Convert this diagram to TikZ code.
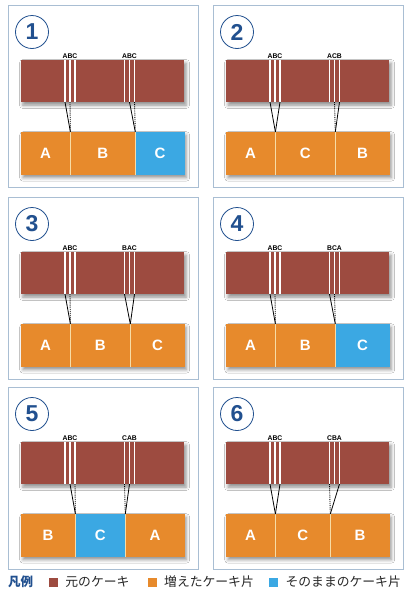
\documentclass[tikz,border=0pt]{standalone}
\usepackage{fontspec}
\setmainfont{Liberation Sans}
\newfontfamily\jpfont{Noto Sans CJK JP}
\usetikzlibrary{positioning,shadows.blur}
\definecolor{cake}{HTML}{9D4B40}
\definecolor{orng}{HTML}{E78A2C}
\definecolor{sky}{HTML}{3BA8E3}
\definecolor{frameblue}{HTML}{A9BED3}
\definecolor{navy}{HTML}{21508F}
\definecolor{cutpink}{HTML}{D98F84}
\definecolor{seamcol}{HTML}{F7DCA6}
\tikzset{
  panel/.style={draw=frameblue,line width=0.9pt,fill=white},
  numcirc/.style={circle,draw=navy,line width=0.8pt,minimum size=33pt,inner sep=0pt,text=navy,font=\fontsize{23}{23}\selectfont\bfseries},
  softshadow/.style={blur shadow={shadow xshift=2.5pt,shadow yshift=-3pt,shadow blur radius=3.5pt,shadow opacity=45}},
  cakebox/.style={fill=cake,minimum width=163pt,minimum height=42pt,inner sep=0pt,softshadow},
  piecerow/.style={fill=orng,minimum width=163pt,minimum height=42.5pt,inner sep=0pt,softshadow},
  piece/.style={fill=orng,minimum height=42.5pt,inner sep=0pt,text=white,font=\fontsize{15}{15}\selectfont\bfseries},
  keep/.style={piece,fill=sky},
  seam/.style={seamcol,line width=0.8pt},
  cutlbl/.style={font=\fontsize{6.8}{6.8}\selectfont\bfseries,inner sep=0pt},
  link/.style={line width=0.8pt},
  linkdot/.style={line width=0.9pt,densely dotted},
  keysq/.style={minimum size=9pt,inner sep=0pt},
  keytext/.style={font=\jpfont\fontsize{12.8}{12.8}\selectfont,text=black!85,inner sep=0pt},
}
% frame, number, cake with its two groups of cuts
\newcommand{\cakebase}[3]{%
  \draw[panel] (0,0) rectangle (190,182);
  \node[numcirc] (num) at (24,27) {#1};
  \node[cakebox] (cake) at (94,76) {};
  \node[piecerow,anchor=north west] (row) at (12.5,127) {};
  \node[cutlbl] (lab1) at (62,51) {#2};
  \node[cutlbl] (lab2) at (121.5,51) {#3};
  \foreach \cn/\cx in {l1/57,m1/62,r1/67,l2/116.5,m2/121.5,r2/126.5}{
    \draw[cutpink,line width=1.9pt] (\cx,55) -- (\cx,97);
    \draw[white,line width=1.1pt] (\cx,55) -- (\cx,97) coordinate (\cn);
  }
}

\begin{document}
\begin{tikzpicture}[x=1pt,y=-1pt]
\useasboundingbox (0,0) rectangle (412,600);

% 1
\begin{scope}[shift={(8,5)}]
\cakebase{1}{ABC}{ABC}
\node[piece,minimum width=49.5pt,anchor=north west] (pA) at (12.5,127) {A};
\node[piece,minimum width=64.5pt,right=0pt of pA] (pB) {B};
\node[keep,minimum width=49pt,right=0pt of pB] (pC) {C};
\draw[seam] (pB.north west) -- (pB.south west); \draw[seam] (pC.north west) -- (pC.south west);
\draw[link] (l1) -- (pB.north west); \draw[linkdot] (m1) -- (pB.north west);
\draw[link] (m2) -- (pC.north west); \draw[linkdot] (r2) -- (pC.north west);
\end{scope}

% 2
\begin{scope}[shift={(213,5)}]
\cakebase{2}{ABC}{ACB}
\node[piece,minimum width=49.5pt,anchor=north west] (pA) at (12.5,127) {A};
\node[piece,minimum width=59.5pt,right=0pt of pA] (pC) {C};
\node[piece,minimum width=54pt,right=0pt of pC] (pB) {B};
\draw[seam] (pC.north west) -- (pC.south west); \draw[seam] (pB.north west) -- (pB.south west);
\draw[link] (l1) -- (pC.north west); \draw[link] (r1) -- (pC.north west);
\draw[linkdot] (m2) -- (pB.north west); \draw[link] (r2) -- (pB.north west);
\end{scope}

% 3
\begin{scope}[shift={(8,197)}]
\cakebase{3}{ABC}{BAC}
\node[piece,minimum width=49.5pt,anchor=north west] (pA) at (12.5,127) {A};
\node[piece,minimum width=59.5pt,right=0pt of pA] (pB) {B};
\node[piece,minimum width=54pt,right=0pt of pB] (pC) {C};
\draw[seam] (pB.north west) -- (pB.south west); \draw[seam] (pC.north west) -- (pC.south west);
\draw[link] (l1) -- (pB.north west); \draw[linkdot] (m1) -- (pB.north west);
\draw[link] (l2) -- (pC.north west); \draw[link] (r2) -- (pC.north west);
\end{scope}

% 4
\begin{scope}[shift={(213,197)}]
\cakebase{4}{ABC}{BCA}
\node[piece,minimum width=49.5pt,anchor=north west] (pA) at (12.5,127) {A};
\node[piece,minimum width=59.5pt,right=0pt of pA] (pB) {B};
\node[keep,minimum width=54pt,right=0pt of pB] (pC) {C};
\draw[seam] (pB.north west) -- (pB.south west); \draw[seam] (pC.north west) -- (pC.south west);
\draw[link] (l1) -- (pB.north west); \draw[linkdot] (m1) -- (pB.north west);
\draw[link] (l2) -- (pC.north west); \draw[linkdot] (m2) -- (pC.north west);
\end{scope}

% 5
\begin{scope}[shift={(8,387)}]
\cakebase{5}{ABC}{CAB}
\node[piece,minimum width=54.5pt,anchor=north west] (pB) at (12.5,127) {B};
\node[keep,minimum width=49.5pt,right=0pt of pB] (pC) {C};
\node[piece,minimum width=59pt,right=0pt of pC] (pA) {A};
\draw[seam] (pC.north west) -- (pC.south west); \draw[seam] (pA.north west) -- (pA.south west);
\draw[link] (m1) -- (pC.north west); \draw[linkdot] (r1) -- (pC.north west);
\draw[link] (m2) -- (pA.north west); \draw[linkdot] (l2) -- (pA.north west);
\end{scope}

% 6
\begin{scope}[shift={(213,387)}]
\cakebase{6}{ABC}{CBA}
\node[piece,minimum width=49.5pt,anchor=north west] (pA) at (12.5,127) {A};
\node[piece,minimum width=54.5pt,right=0pt of pA] (pC) {C};
\node[piece,minimum width=59pt,right=0pt of pC] (pB) {B};
\draw[seam] (pC.north west) -- (pC.south west); \draw[seam] (pB.north west) -- (pB.south west);
\draw[link] (l1) -- (pC.north west); \draw[link] (r1) -- (pC.north west);
\draw[link] (r2) -- (pB.north west); \draw[linkdot] (l2) -- (pB.north west);
\end{scope}

% legend
\node[font=\jpfont\bfseries\fontsize{12.5}{12.5}\selectfont,text=navy,anchor=west,inner sep=0pt] (legend) at (8,582) {凡例};
\node[keysq,fill=cake] (k1) at (53.5,582) {};
\node[keytext,right=7pt of k1] (t1) {元のケーキ};
\node[keysq,fill=orng,right=18pt of t1] (k2) {};
\node[keytext,right=7pt of k2] (t2) {増えたケーキ片};
\node[keysq,fill=sky,right=15pt of t2] (k3) {};
\node[keytext,right=7pt of k3] (t3) {そのままのケーキ片};
\end{tikzpicture}
\end{document}
